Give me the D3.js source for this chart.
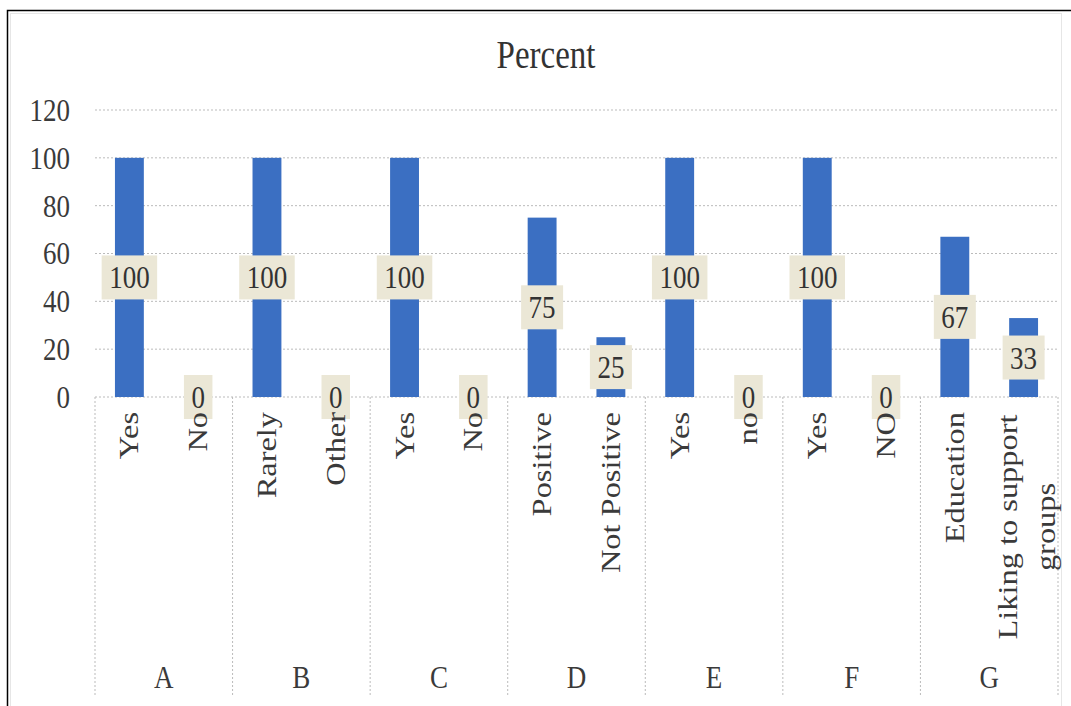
<!DOCTYPE html>
<html><head><meta charset="utf-8">
<script src="https://cdn.jsdelivr.net/npm/d3@7"></script>
<style>body{margin:0;background:#fff}svg{display:block}</style>
</head><body>
<script>
const groups = ["A","B","C","D","E","F","G"];
const categories = [
  ["Yes","No"],["Rarely","Other"],["Yes","No"],["Positive","Not Positive"],
  ["Yes","no"],["Yes","NO"],["Education","Liking to support groups"]
];
const values = [[100,0],[100,0],[100,0],[75,25],[100,0],[100,0],[67,33]];
const yTicks = [0,20,40,60,80,100,120];
const title = "Percent";

const W = 1071, H = 706;
const SY = 1.2; // vertical stretch of text seen in the reference
const svg = d3.select("body").append("svg").attr("width", W).attr("height", H);
const font = "'Liberation Serif', 'Times New Roman', serif";
const txt = "#3a3a3a";
const fs = 27;

// outer frames
svg.append("rect").attr("x",7.5).attr("y",10.5).attr("width",W).attr("height",H)
  .attr("fill","none").attr("stroke","#000").attr("stroke-width",1.5);
svg.append("rect").attr("x",10.5).attr("y",13.5).attr("width",W-20).attr("height",H-12)
  .attr("fill","none").attr("stroke","#ccc").attr("stroke-dasharray","1,1");

const x0 = 95, x1 = 1058, yTop = 110, yBot = 397, sepBottom = 697;
const y = d3.scaleLinear().domain([0,120]).range([yBot, yTop]);
const gx = d3.scaleBand().domain(groups).range([x0, x1]).padding(0);
const sx = d3.scaleBand().domain([0,1]).range([0, gx.bandwidth()]).paddingInner(0.58).paddingOuter(0.29);

svg.append("text").attr("transform", `translate(546,68) scale(1,${SY})`).attr("text-anchor","middle")
  .attr("font-family", font).attr("font-size", 33).attr("fill", "#333").text(title);

// gridlines
svg.append("g").selectAll("line").data(yTicks.filter(d=>d>0)).join("line")
  .attr("x1", x0).attr("x2", x1).attr("y1", d=>y(d)).attr("y2", d=>y(d))
  .attr("stroke","#bbb").attr("stroke-dasharray","2,2");

// y axis labels
const yAxis = d3.axisLeft(y).tickValues(yTicks).tickSize(0).tickPadding(0);
const ya = svg.append("g").attr("transform", `translate(70,0)`).call(yAxis);
ya.select(".domain").remove();
ya.selectAll("text").attr("font-family", font).attr("font-size", fs).attr("fill", txt)
  .attr("transform", `scale(1,${SY})`);

// baseline
svg.append("line").attr("x1",x0).attr("x2",x1).attr("y1",yBot).attr("y2",yBot)
  .attr("stroke","#bbb").attr("stroke-dasharray","2,2");

// separators
svg.append("g").selectAll("line").data(d3.range(groups.length+1)).join("line")
  .attr("x1", i => i < groups.length ? gx(groups[i]) : x1)
  .attr("x2", i => i < groups.length ? gx(groups[i]) : x1)
  .attr("y1", yBot).attr("y2", sepBottom)
  .attr("stroke","#bbb").attr("stroke-dasharray","2,2");

const flat = [];
groups.forEach((g,gi)=> values[gi].forEach((v,si)=> flat.push({g, si, v, cat: categories[gi][si]})));
const cxOf = d => gx(d.g) + sx(d.si) + sx.bandwidth()/2;

// bars
svg.append("g").selectAll("rect").data(flat).join("rect")
  .attr("x", d => gx(d.g) + sx(d.si))
  .attr("width", sx.bandwidth())
  .attr("y", d => y(d.v))
  .attr("height", d => yBot - y(d.v))
  .attr("fill", "#3b6fc2");

// data labels
const dl = svg.append("g").selectAll("g").data(flat).join("g")
  .attr("transform", d => `translate(${cxOf(d)},${y(d.v/2)})`);
dl.append("rect")
  .attr("x", d => -(String(d.v).length*13.5 + 15)/2)
  .attr("width", d => String(d.v).length*13.5 + 15)
  .attr("y", -22).attr("height", 44)
  .attr("fill", "#ebe7d6");
dl.append("text").attr("text-anchor","middle").attr("dy", "0.34em")
  .attr("transform", `scale(1,${SY})`)
  .attr("font-family", font).attr("font-size", fs).attr("fill", "#333")
  .text(d => d.v);

// category labels (rotated)
const cl = svg.append("g").selectAll("text").data(flat).join("text")
  .attr("font-family", font).attr("font-size", fs).attr("fill", txt);
cl.each(function(d){
  const cx = cxOf(d);
  const t = d3.select(this);
  if (d.cat.length > 15) {
    const words = d.cat.split(" ");
    const l1 = words.slice(0, -1).join(" "), l2 = words[words.length-1];
    t.attr("transform", `translate(${cx},527) scale(1,${SY}) rotate(-90)`).attr("text-anchor","middle");
    t.append("tspan").attr("x",0).attr("y",-7).text(l1);
    t.append("tspan").attr("x",0).attr("y",31).text(l2);
  } else {
    t.attr("transform", `translate(${cx+9},412) scale(1,${SY}) rotate(-90)`).attr("text-anchor","end").text(d.cat);
  }
});

// group labels
svg.append("g").selectAll("text").data(groups).join("text")
  .attr("transform", d => `translate(${gx(d) + gx.bandwidth()/2},688) scale(1,${SY})`)
  .attr("text-anchor","middle").attr("font-family", font).attr("font-size", fs).attr("fill", txt)
  .text(d => d);
</script>
</body></html>
